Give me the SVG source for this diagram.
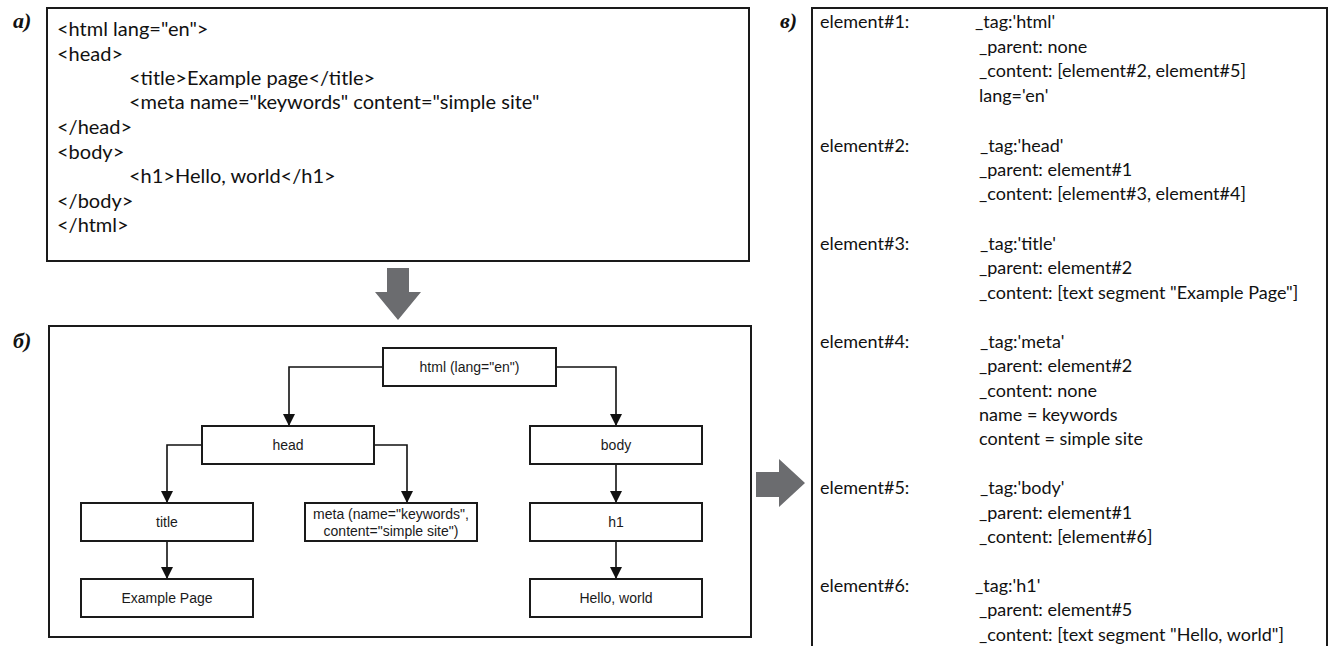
<svg xmlns="http://www.w3.org/2000/svg" width="1331" height="646" viewBox="0 0 1331 646">
<defs>
<style>
.panel{fill:#fff;stroke:#1a1a1a;stroke-width:2}
.node{fill:#fff;stroke:#1a1a1a;stroke-width:2}
.ntxt{font-family:"Liberation Sans",Arial,sans-serif;font-size:14px;fill:#1a1a1a;text-anchor:middle}
.code{font-family:Lato,"Liberation Sans",sans-serif;font-size:20px;fill:#111}
.obj{font-family:Lato,"Liberation Sans",sans-serif;font-size:18px;fill:#111}
.lbl{font-family:"Liberation Serif","Times New Roman",serif;font-size:22px;font-style:italic;font-weight:bold;fill:#111}
.conn{fill:none;stroke:#111;stroke-width:1.6;marker-end:url(#ah)}
.big{fill:#6b6c6f}
</style>
<marker id="ah" viewBox="0 0 12 12" refX="12" refY="6" markerWidth="12" markerHeight="12" markerUnits="userSpaceOnUse" orient="auto">
<path d="M0,0 L12,6 L0,12 Z" fill="#111"/>
</marker>
</defs>
<rect width="1331" height="646" fill="#fff"/>

<!-- panel a -->
<g id="panel-a">
<text class="lbl" x="13" y="28">а)</text>
<rect class="panel" x="47" y="8" width="702" height="253"/>
<text class="code" x="57" y="36">&lt;html lang="en"&gt;</text>
<text class="code" x="57" y="61">&lt;head&gt;</text>
<text class="code" x="129" y="85">&lt;title&gt;Example page&lt;/title&gt;</text>
<text class="code" x="129" y="109">&lt;meta name="keywords" content="simple site"</text>
<text class="code" x="57" y="134">&lt;/head&gt;</text>
<text class="code" x="57" y="159">&lt;body&gt;</text>
<text class="code" x="129" y="183">&lt;h1&gt;Hello, world&lt;/h1&gt;</text>
<text class="code" x="57" y="208">&lt;/body&gt;</text>
<text class="code" x="57" y="232">&lt;/html&gt;</text>
</g>

<g id="arrow-down">
<polygon class="big" points="387,268 409,268 409,292 421,292 398,320 375,292 387,292"/>
</g>

<!-- panel b -->
<g id="panel-b">
<text class="lbl" x="13" y="348">б)</text>
<rect class="panel" x="49" y="326" width="702" height="311"/>
</g>

<g id="connectors">
<path class="conn" d="M383,367 H289 V426"/>
<path class="conn" d="M556,367 H616 V426"/>
<path class="conn" d="M202,445 H167 V503"/>
<path class="conn" d="M374,445 H407 V503"/>
<path class="conn" d="M167,541 V579"/>
<path class="conn" d="M616,464 V503"/>
<path class="conn" d="M616,541 V579"/>
</g>

<g id="node-html">
<rect class="node" x="383" y="348" width="173" height="38"/>
<text class="ntxt" x="469.5" y="372">html (lang="en")</text>
</g>
<g id="node-head">
<rect class="node" x="202" y="426" width="172" height="38"/>
<text class="ntxt" x="288" y="450">head</text>
</g>
<g id="node-body">
<rect class="node" x="530" y="426" width="172" height="38"/>
<text class="ntxt" x="616" y="450">body</text>
</g>
<g id="node-title">
<rect class="node" x="81" y="503" width="172" height="38"/>
<text class="ntxt" x="167" y="527">title</text>
</g>
<g id="node-meta">
<rect class="node" x="305" y="503" width="172" height="38"/>
<text class="ntxt" x="391" y="519">meta (name="keywords",</text>
<text class="ntxt" x="391" y="536">content="simple site")</text>
</g>
<g id="node-h1">
<rect class="node" x="530" y="503" width="172" height="38"/>
<text class="ntxt" x="616" y="527">h1</text>
</g>
<g id="node-example">
<rect class="node" x="81" y="579" width="172" height="38"/>
<text class="ntxt" x="167" y="603">Example Page</text>
</g>
<g id="node-hello">
<rect class="node" x="530" y="579" width="172" height="38"/>
<text class="ntxt" x="616" y="603">Hello, world</text>
</g>

<g id="arrow-right">
<polygon class="big" points="756,472 779,472 779,459 805,483 779,507 779,497 756,497"/>
</g>

<!-- panel c -->
<g id="panel-c">
<text class="lbl" x="780" y="28">в)</text>
<path d="M812,650 V8 H1327 V650" fill="#fff" stroke="#1a1a1a" stroke-width="2"/>
<g class="obj">
<text x="820" y="28">element#1:</text>
<text x="975" y="28">_tag:'html'</text>
<text x="979" y="53">_parent: none</text>
<text x="979" y="77">_content: [element#2, element#5]</text>
<text x="979" y="102">lang='en'</text>

<text x="820" y="152">element#2:</text>
<text x="980" y="152">_tag:'head'</text>
<text x="979" y="176">_parent: element#1</text>
<text x="979" y="200">_content: [element#3, element#4]</text>

<text x="820" y="250">element#3:</text>
<text x="980" y="250">_tag:'title'</text>
<text x="979" y="274">_parent: element#2</text>
<text x="979" y="299">_content: [text segment "Example Page"]</text>

<text x="820" y="348">element#4:</text>
<text x="980" y="348">_tag:'meta'</text>
<text x="979" y="372">_parent: element#2</text>
<text x="979" y="397">_content: none</text>
<text x="979" y="421">name = keywords</text>
<text x="979" y="445">content = simple site</text>

<text x="820" y="494">element#5:</text>
<text x="980" y="494">_tag:'body'</text>
<text x="979" y="519">_parent: element#1</text>
<text x="979" y="543">_content: [element#6]</text>

<text x="820" y="592">element#6:</text>
<text x="975" y="592">_tag:'h1'</text>
<text x="979" y="616">_parent: element#5</text>
<text x="979" y="641">_content: [text segment "Hello, world"]</text>
</g>
</g>
</svg>
